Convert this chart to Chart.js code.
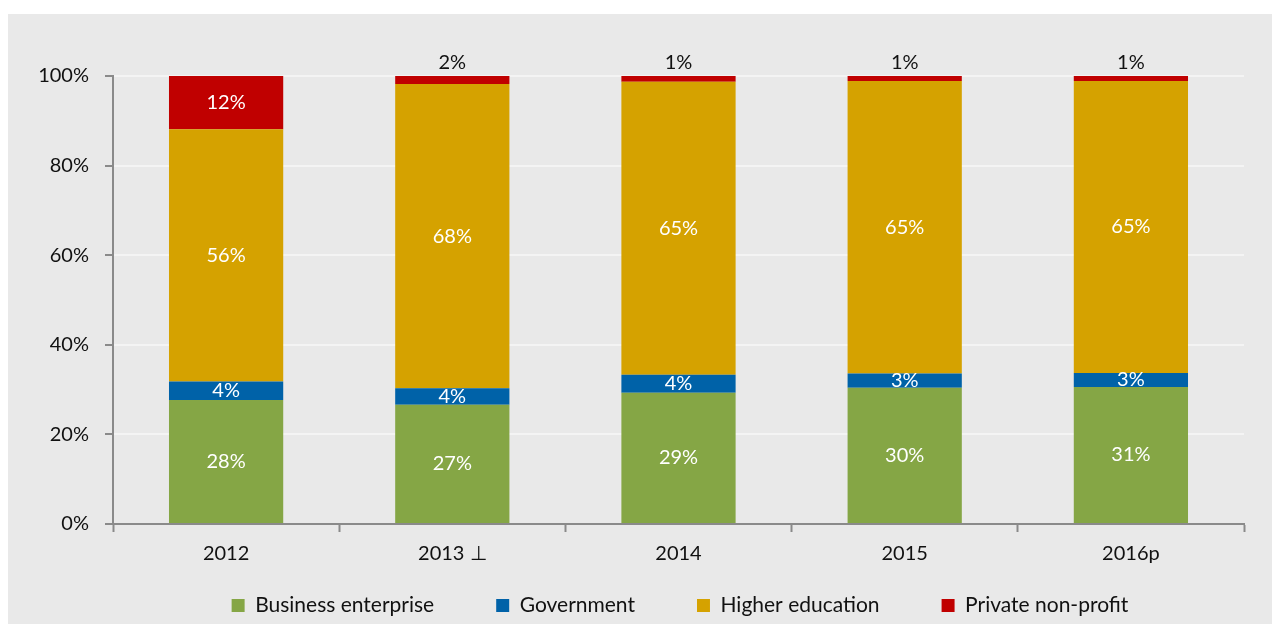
<!DOCTYPE html>
<html>
<head>
<meta charset="utf-8">
<script src="https://cdn.jsdelivr.net/npm/chart.js@4/dist/chart.umd.min.js"></script>
<style>
  body { margin: 0; background: #ffffff; }
  #wrap { position: absolute; left: 8px; top: 14px; width: 1264px; height: 610px; background: #e9e9e9; }
</style>
</head>
<body>
<div id="wrap"><canvas id="chart"></canvas></div>
<script>
var years = ["2012", "2013 \u22A5", "2014", "2015", "2016p"];
var business = [27.7, 26.6, 29.3, 30.4, 30.6];
var government = [4.1, 3.7, 4.0, 3.2, 3.1];
var higherEd = [56.3, 67.9, 65.4, 65.3, 65.2];
var privateNP = [11.9, 1.8, 1.3, 1.1, 1.1];
var yTicks = [0, 20, 40, 60, 80, 100];

var fontFam = "Lato, 'Open Sans', sans-serif";

// simple label plugin: value in the middle of each segment, small tops go above
var barLabels = {
  id: 'barLabels',
  afterDatasetsDraw: function (chart) {
    var ctx = chart.ctx;
    ctx.save();
    ctx.font = "20px " + fontFam;
    ctx.textAlign = 'center';
    ctx.textBaseline = 'middle';
    chart.data.datasets.forEach(function (ds, i) {
      var meta = chart.getDatasetMeta(i);
      meta.data.forEach(function (bar, j) {
        var v = ds.data[j];
        var txt = Math.round(v) + '%';
        if (i == 3 && v < 5) {
          ctx.fillStyle = '#111111';
          ctx.fillText(txt, bar.x, bar.y - 13);
        } else {
          ctx.fillStyle = '#ffffff';
          ctx.fillText(txt, bar.x, (bar.y + bar.base) / 2);
        }
      });
    });
    ctx.restore();
  }
};

// legend padding is big (wide gaps between items), so trim its height
// and move it under the plot area
var legendFix = {
  id: 'legendFix',
  afterInit: function (chart) {
    var lg = chart.legend;
    var fit = lg.fit;
    lg.fit = function () { fit.call(this); this.height -= 38; };
  },
  afterLayout: function (chart) {
    var lg = chart.legend;
    lg.top -= 36;
    lg.left += 54; lg.right += 54;
  }
};

new Chart(document.getElementById('chart'), {
  type: 'bar',
  data: {
    labels: years,
    datasets: [
      { label: 'Business enterprise', data: business, backgroundColor: '#85a645' },
      { label: 'Government', data: government, backgroundColor: '#0062a8' },
      { label: 'Higher education', data: higherEd, backgroundColor: '#d5a200' },
      { label: 'Private non-profit', data: privateNP, backgroundColor: '#c00000' }
    ]
  },
  options: {
    responsive: true,
    maintainAspectRatio: false,
    animation: false,
    datasets: { bar: { categoryPercentage: 1.0, barPercentage: 0.505 } },
    layout: { padding: { top: 62, right: 28, bottom: 0, left: 0 } },
    plugins: {
      tooltip: { enabled: false },
      legend: {
        position: 'bottom',
        labels: {
          boxWidth: 13, boxHeight: 13, padding: 62,
          color: '#111111',
          font: { family: fontFam, size: 21 }
        }
      }
    },
    scales: {
      x: {
        stacked: true,
        grid: { display: true, offset: true, drawOnChartArea: false, drawTicks: true, tickLength: 8, tickColor: '#8a8a8a', tickWidth: 2 },
        border: { color: '#8a8a8a', width: 2 },
        ticks: { color: '#111111', padding: 10, font: { family: fontFam, size: 20 } },
        afterFit: function (s) { s.height = 45; }
      },
      y: {
        stacked: true,
        min: 0, max: 100,
        afterBuildTicks: function (s) { s.ticks = yTicks.map(function (v) { return { value: v }; }); },
        grid: { color: '#f4f4f4', lineWidth: 2, tickLength: 8, tickColor: '#8a8a8a', tickWidth: 2 },
        border: { color: '#8a8a8a', width: 2 },
        ticks: { color: '#111111', padding: 16, font: { family: fontFam, size: 20 }, callback: function (v) { return v + '%'; } },
        afterFit: function (s) { s.width = 105; }
      }
    }
  },
  plugins: [barLabels, legendFix]
});
</script>
</body>
</html>
